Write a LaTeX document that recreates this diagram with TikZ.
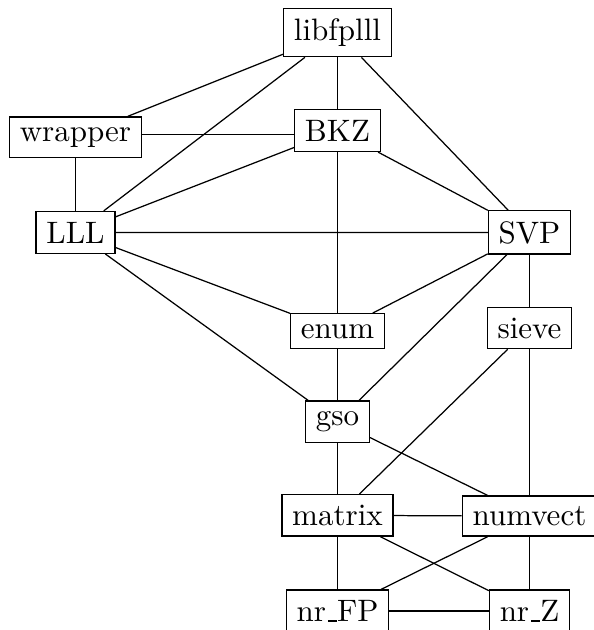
\documentclass[tikz,border=0pt]{standalone}
\newcommand\myus{\leavevmode\kern.06em\vbox{\hrule width.3em}}
\begin{document}
\begin{tikzpicture}[x=0.32258pt,y=-0.32258pt,
  mod/.style={draw,anchor=base,inner sep=0.3333em}]
\useasboundingbox (0,0) rectangle (594,630);
\node[mod] (libfplll) at (337.5,40.4) {libfplll};
\node[mod] (wrapper) at (75.5,141.2) {wrapper};
\node[mod] (BKZ) at (337.5,141.2) {BKZ};
\node[mod] (LLL) at (75.5,243) {LLL};
\node[mod] (SVP) at (529.5,243) {SVP};
\node[mod] (enum) at (337.5,338) {enum};
\node[mod] (sieve) at (529.5,338) {sieve};
\node[mod] (gso) at (337.5,425.4) {gso};
\node[mod] (matrix) at (337.5,525.4) {matrix};
\node[mod] (numvect) at (529.5,525.4) {numvect};
\node[mod] (nrFP) at (337.5,621.5) {nr\myus FP};
\node[mod] (nrZ) at (529.5,621.5) {nr\myus Z};
\coordinate (rowtwo) at (0,134.5);
\draw (libfplll) -- (wrapper);
\draw (libfplll) -- (LLL);
\draw (libfplll) -- (BKZ);
\draw (libfplll) -- (SVP);
\draw (wrapper.east |- rowtwo) -- (BKZ.west |- rowtwo);
\draw (wrapper) -- (LLL);
\draw (BKZ) -- (LLL);
\draw (BKZ) -- (SVP);
\draw (BKZ) -- (enum);
\draw (LLL) -- (SVP);
\draw (LLL) -- (enum);
\draw (LLL) -- (gso);
\draw (SVP) -- (enum);
\draw (SVP) -- (gso);
\draw (SVP) -- (sieve);
\draw (enum) -- (gso);
\draw (sieve) -- (matrix);
\draw (sieve) -- (numvect);
\draw (gso) -- (matrix);
\draw (gso) -- (numvect);
\draw (matrix) -- (numvect);
\draw (matrix) -- (nrFP);
\draw (matrix) -- (nrZ);
\draw (numvect) -- (nrFP);
\draw (numvect) -- (nrZ);
\draw (nrFP) -- (nrZ);
\end{tikzpicture}
\end{document}
